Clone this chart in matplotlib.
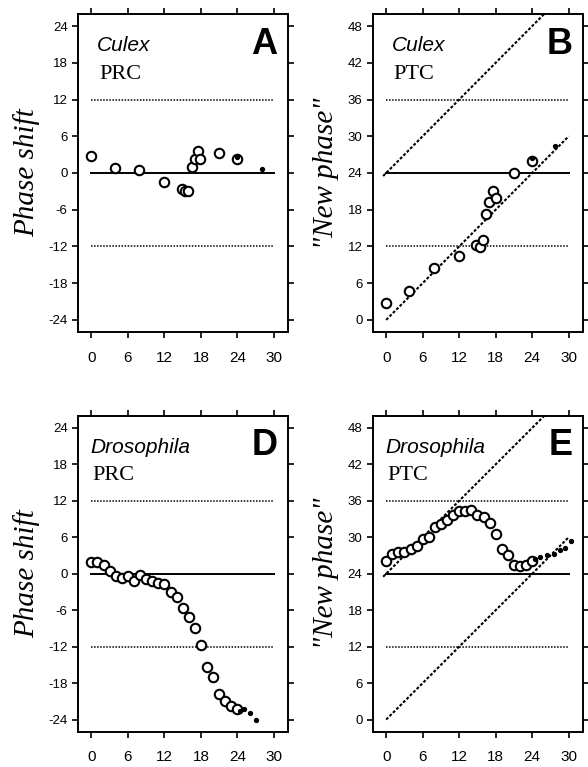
import matplotlib
matplotlib.use("Agg")
import matplotlib.pyplot as plt

plt.rcParams["axes.unicode_minus"] = False

# Culex, panel A (phase response) and B (phase transition)
culex_time = [0, 3.9, 7.9, 11.9, 14.9, 15.4, 15.9, 16.5, 17.0, 17.5, 17.9, 21.0, 24.0]
culex_prc = [2.7, 0.8, 0.5, -1.5, -2.7, -2.9, -3.0, 0.9, 2.2, 3.6, 2.3, 3.2, 2.2]
culex_prc_dot_time = [24.0, 28.0]
culex_prc_dot = [2.6, 0.65]

culex_ptc_time = [0, 3.7, 7.85, 11.9, 14.8, 15.4, 15.9, 16.45, 16.9, 17.5, 18.0, 21.0, 23.9]
culex_ptc = [2.7, 4.7, 8.4, 10.4, 12.2, 11.9, 13.0, 17.3, 19.3, 21.0, 19.9, 24.0, 26.0]
culex_ptc_dot_time = [23.9, 27.7]
culex_ptc_dot = [26.4, 28.4]

# Drosophila, panel D (phase response) and E (phase transition)
dros_time = [0, 1, 2, 3, 4, 5, 6, 7, 8, 9, 10, 11, 12, 13, 14, 15, 16, 17, 18,
             19, 20, 21, 22, 23, 24]
dros_prc = [2.0, 2.0, 1.4, 0.5, -0.4, -0.7, -0.4, -1.2, -0.2, -0.8, -1.2, -1.5,
            -1.7, -3.0, -3.9, -5.7, -7.1, -8.9, -11.7, -15.4, -17.0, -19.8,
            -21.0, -21.7, -22.2]
dros_prc_dot_time = [24.5, 25.0, 26.0, 27.0]
dros_prc_dot = [-22.6, -22.3, -23.0, -24.0]

dros_ptc = [26.1, 27.2, 27.6, 27.5, 28.0, 28.6, 29.7, 30.0, 31.7, 32.2, 32.9,
            33.6, 34.4, 34.3, 34.5, 33.6, 33.4, 32.4, 30.6, 28.0, 27.0, 25.4,
            25.3, 25.4, 26.1]
dros_ptc_dot_time = [24.4, 25.3, 26.4, 27.6, 28.5, 29.4, 30.4]
dros_ptc_dot = [26.4, 26.8, 27.1, 27.3, 27.9, 28.2, 29.4]

x_ticks = [0, 6, 12, 18, 24, 30]
prc_ticks = [-24, -18, -12, -6, 0, 6, 12, 18, 24]
ptc_ticks = [0, 6, 12, 18, 24, 30, 36, 42, 48]

SANS = "Liberation Sans"
SERIF = "Liberation Serif"


def style_axes(ax, yticks, ylim):
    ax.set_xlim(-2.2, 32.3)
    ax.set_ylim(*ylim)
    ax.set_xticks(x_ticks)
    ax.set_yticks(yticks)
    ax.tick_params(direction="out", top=True, right=True, length=4.5, width=1.2)
    ax.tick_params(axis="x", pad=9, labelsize=11)
    ax.tick_params(axis="y", pad=3, labelsize=9.5)
    for lab in ax.get_xticklabels() + ax.get_yticklabels():
        lab.set_family(SANS)
    for sp in ax.spines.values():
        sp.set_linewidth(1.4)


def draw_points(ax, t, v, dt, dv):
    ax.plot(t, v, "o", mfc="white", mec="black", ms=6.8, mew=1.5, zorder=3)
    ax.plot(dt, dv, "o", color="black", ms=2.8, zorder=4)


def labels(ax, species, kind, letter, x0):
    ax.text(x0, 0.90, species, transform=ax.transAxes, family=SANS, style="italic",
            fontsize=15, va="center", ha="left")
    ax.text(x0 + 0.01, 0.81, kind, transform=ax.transAxes, family=SERIF,
            fontsize=16, va="center", ha="left")
    ax.text(0.95, 0.905, letter, transform=ax.transAxes, family=SANS,
            fontweight="bold", fontsize=26, va="center", ha="right")


def prc_guides(ax):
    ax.plot([0, 30], [0, 0], color="black", lw=1.4)
    for y in (12, -12):
        ax.plot([0, 30], [y, y], color="black", lw=1.1, ls=(0, (1, 1)))


def ptc_guides(ax):
    ax.plot([0, 30], [24, 24], color="black", lw=1.4)
    for y in (12, 36):
        ax.plot([0, 30], [y, y], color="black", lw=1.1, ls=(0, (1, 1)))
    ax.plot([-0.5, 30], [23.5, 54], color="black", lw=1.5, ls=(0, (1.4, 0.9)))
    ax.plot([0, 30], [0, 30], color="black", lw=1.5, ls=(0, (1.4, 0.9)))


def main():
    fig = plt.figure(figsize=(5.88, 7.67), dpi=100)
    w, h = 0.357, 0.415
    ax_a = fig.add_axes([0.1327, 0.567, w, h])
    ax_b = fig.add_axes([0.634, 0.567, w, h])
    ax_d = fig.add_axes([0.1327, 0.046, w, 0.412])
    ax_e = fig.add_axes([0.634, 0.046, w, 0.412])

    prc_guides(ax_a)
    draw_points(ax_a, culex_time, culex_prc, culex_prc_dot_time, culex_prc_dot)
    style_axes(ax_a, prc_ticks, (-26, 26))
    labels(ax_a, "Culex", "PRC", "A", 0.09)

    ptc_guides(ax_b)
    draw_points(ax_b, culex_ptc_time, culex_ptc, culex_ptc_dot_time, culex_ptc_dot)
    style_axes(ax_b, ptc_ticks, (-2, 50))
    labels(ax_b, "Culex", "PTC", "B", 0.09)

    prc_guides(ax_d)
    draw_points(ax_d, dros_time, dros_prc, dros_prc_dot_time, dros_prc_dot)
    style_axes(ax_d, prc_ticks, (-26, 26))
    labels(ax_d, "Drosophila", "PRC", "D", 0.06)

    ptc_guides(ax_e)
    draw_points(ax_e, dros_time, dros_ptc, dros_ptc_dot_time, dros_ptc_dot)
    style_axes(ax_e, ptc_ticks, (-2, 50))
    labels(ax_e, "Drosophila", "PTC", "E", 0.06)

    for ax in (ax_a, ax_d):
        ax.set_ylabel("Phase shift", family=SERIF, style="italic", fontsize=21,
                      labelpad=6)
    for ax in (ax_b, ax_e):
        ax.set_ylabel('"New phase"', family=SERIF, style="italic", fontsize=21,
                      labelpad=6)

    fig.savefig("out.png", dpi=100)


if __name__ == '__main__':
    main()
